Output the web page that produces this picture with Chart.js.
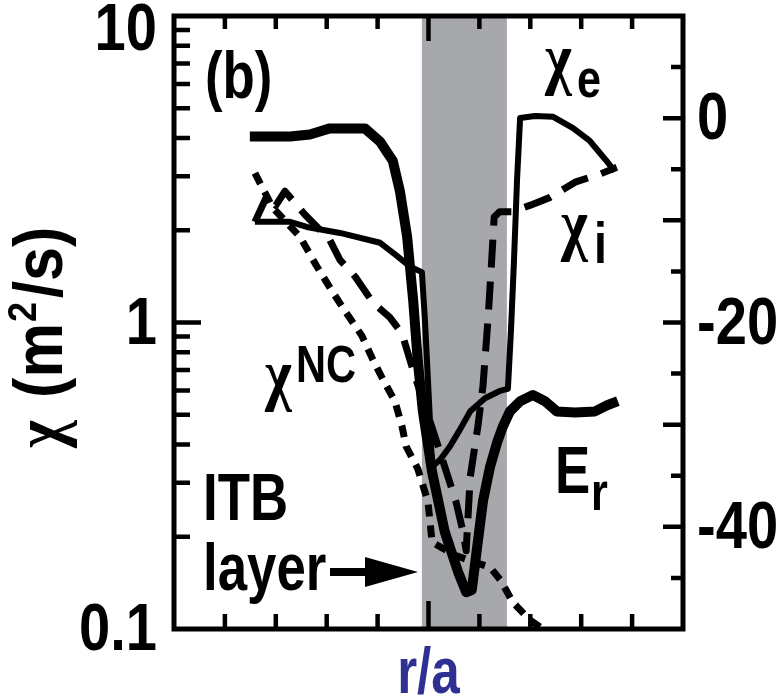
<!DOCTYPE html>
<html>
<head>
<meta charset="utf-8">
<script src="https://cdn.jsdelivr.net/npm/chart.js@4.4.1/dist/chart.umd.min.js"></script>
<style>
  body { margin: 0; background: #fff; }
  canvas { display: block; }
</style>
</head>
<body>
<canvas id="c" width="779" height="698"></canvas>
<script>
// r/a positions and values for each profile
const erR = [0.149, 0.228, 0.267, 0.306, 0.375, 0.405, 0.430, 0.444, 0.458, 0.470, 0.479, 0.489, 0.507, 0.532, 0.558, 0.574, 0.585, 0.595, 0.607, 0.621, 0.635, 0.646, 0.660, 0.680, 0.705, 0.729, 0.752, 0.788, 0.827, 0.851, 0.872]
const erVal = [-1.8, -1.8, -1.6, -1.0, -1.0, -2.3, -4.2, -7.2, -11.6, -17.9, -23.8, -28.7, -34.6, -40.5, -44.4, -46.4, -46.2, -42.2, -37.5, -34.1, -31.7, -30.2, -28.7, -27.7, -27.1, -27.7, -28.7, -28.8, -28.7, -28.1, -27.7]

const chiER = [0.159, 0.228, 0.261, 0.326, 0.405, 0.438, 0.464, 0.487, 0.493, 0.501, 0.507, 0.523, 0.542, 0.562, 0.582, 0.611, 0.640, 0.656, 0.662, 0.668, 0.674, 0.680, 0.709, 0.745, 0.784, 0.817, 0.847, 0.866]
const chiE = [2.13, 2.13, 2.05, 1.96, 1.82, 1.65, 1.52, 1.46, 1.02, 0.554, 0.338, 0.357, 0.394, 0.448, 0.513, 0.566, 0.598, 0.607, 0.94, 1.6, 2.93, 4.65, 4.72, 4.69, 4.31, 3.91, 3.41, 3.11]

const chiIR = [0.159, 0.183, 0.200, 0.218, 0.257, 0.306, 0.326, 0.356, 0.391, 0.424, 0.448, 0.473, 0.503, 0.532, 0.554, 0.568, 0.574, 0.582, 0.597, 0.607, 0.613, 0.617, 0.623, 0.629, 0.640, 0.664, 0.699, 0.739, 0.788, 0.837, 0.870]
const chiI = [2.13, 2.6, 2.41, 2.68, 2.25, 1.86, 1.6, 1.41, 1.16, 1.04, 0.92, 0.67, 0.476, 0.338, 0.26, 0.207, 0.18, 0.314, 0.458, 0.62, 0.84, 1.03, 1.48, 2.21, 2.3, 2.3, 2.41, 2.56, 2.87, 3.05, 3.21]

const chiNcR = [0.159, 0.194, 0.248, 0.279, 0.310, 0.336, 0.369, 0.389, 0.409, 0.434, 0.448, 0.456, 0.479, 0.499, 0.507, 0.552, 0.591, 0.621, 0.642, 0.666, 0.699, 0.725]
const chiNc = [3.07, 2.37, 1.9, 1.54, 1.27, 1.09, 0.906, 0.767, 0.659, 0.554, 0.458, 0.394, 0.333, 0.26, 0.192, 0.174, 0.165, 0.159, 0.144, 0.122, 0.107, 0.1]

// ITB layer (shaded)
const bandFrom = 0.487
const bandTo = 0.654

const leftLabels = ['0.1', '1', '10']
const rightLabels = ['0', '-20', '-40']

const SANS = "'Liberation Sans', Arial, sans-serif"
const SERIF = "'Liberation Serif', 'DejaVu Serif', serif"
const SQ = 0.8   // lettering is narrow

function pts(xs, ys) {
  return xs.map((x, i) => ({x: x, y: ys[i]}))
}

function txt(ctx, s, x, y, font, sx, align) {
  ctx.save()
  ctx.translate(x, y)
  ctx.scale(sx || 1, 1)
  ctx.font = font
  ctx.textAlign = align || 'left'
  ctx.fillText(s, 0, 0)
  ctx.restore()
}

const decor = {
  id: 'decor',
  beforeDatasetsDraw(chart) {
    const {ctx, chartArea: a, scales} = chart
    const x0 = scales.x.getPixelForValue(bandFrom)
    const x1 = scales.x.getPixelForValue(bandTo)
    ctx.save()
    ctx.fillStyle = '#a7a8ab'
    ctx.fillRect(x0, a.top, x1 - x0, a.bottom - a.top)
    ctx.restore()
  },
  afterDatasetsDraw(chart) {
    const {ctx, chartArea: a, scales} = chart
    ctx.save()
    ctx.strokeStyle = '#000'
    ctx.lineWidth = 5
    ctx.strokeRect(a.left, a.top, a.right - a.left, a.bottom - a.top)
    ctx.lineWidth = 4.5
    ctx.beginPath()
    // ticks on r/a, top and bottom, pointing in
    for (let i = 1; i < 10; i++) {
      const px = scales.x.getPixelForValue(i / 10)
      const big = i == 5
      ctx.moveTo(px, a.bottom); ctx.lineTo(px, a.bottom - (big ? 28 : 15))
      ctx.moveTo(px, a.top); ctx.lineTo(px, a.top + (big ? 25 : 13))
    }
    // log ticks on the left
    for (const d of [0.1, 1]) {
      for (let m = 1; m < 10; m++) {
        if (d == 0.1 && m == 1) continue
        const py = scales.y.getPixelForValue(d * m)
        ctx.moveTo(a.left, py); ctx.lineTo(a.left + (m == 1 ? 27 : 16), py)
      }
    }
    // Er ticks on the right
    for (let v = -45; v <= 5; v += 5) {
      const py = scales.y2.getPixelForValue(v)
      ctx.moveTo(a.right, py); ctx.lineTo(a.right - (v % 10 == 0 ? 20 : 12), py)
    }
    ctx.stroke()
    ctx.restore()
  },
  afterDraw(chart) {
    const {ctx, chartArea: a, scales} = chart
    ctx.save()
    ctx.fillStyle = '#000'
    ctx.textBaseline = 'alphabetic'
    const num = 'bold 66px ' + SANS
    for (const s of leftLabels) {
      const py = scales.y.getPixelForValue(Number(s))
      txt(ctx, s, a.left - 17, Math.max(py + 21, 50), num, 0.85, 'right')
    }
    for (const s of rightLabels) {
      const py = scales.y2.getPixelForValue(Number(s))
      txt(ctx, s, a.right + 14, py + 21, num, 0.85)
    }

    // axis titles
    ctx.fillStyle = '#2e3192'
    txt(ctx, 'r/a', (a.left + a.right) / 2, 693, 'bold 64px ' + SANS, SQ, 'center')
    ctx.fillStyle = '#000'
    ctx.save()
    ctx.translate(62, 448)
    ctx.rotate(-Math.PI / 2)
    txt(ctx, 'χ', 0, 0, 'bold 70px ' + SERIF, 0.85)
    txt(ctx, '(m', 50, 0, 'bold 68px ' + SANS, 0.9)
    txt(ctx, '2', 126, -26, 'bold 40px ' + SANS, 0.9)
    txt(ctx, '/s)', 150, 0, 'bold 68px ' + SANS, 0.9)
    ctx.restore()

    // curve labels
    txt(ctx, '(b)', 205, 98, 'bold 66px ' + SANS, SQ)
    txt(ctx, 'χ', 545, 81, 'bold 70px ' + SERIF, 0.82)
    txt(ctx, 'e', 577, 97, 'bold 54px ' + SANS, SQ)
    txt(ctx, 'χ', 561, 247, 'bold 70px ' + SERIF, 0.82)
    txt(ctx, 'i', 594, 263, 'bold 58px ' + SANS, SQ)
    txt(ctx, 'χ', 265, 397, 'bold 70px ' + SERIF, 0.82)
    txt(ctx, 'NC', 296, 382, 'bold 52px ' + SANS, SQ)
    txt(ctx, 'E', 555, 493, 'bold 66px ' + SANS, SQ)
    txt(ctx, 'r', 591, 510, 'bold 54px ' + SANS, SQ)
    txt(ctx, 'ITB', 203, 520, 'bold 66px ' + SANS, SQ)
    txt(ctx, 'layer', 203, 590, 'bold 66px ' + SANS, SQ)
    // arrow to the layer
    ctx.fillRect(330, 568, 40, 8)
    ctx.beginPath()
    ctx.moveTo(365, 557); ctx.lineTo(418, 572); ctx.lineTo(365, 587)
    ctx.closePath()
    ctx.fill()
    ctx.restore()
  }
}

new Chart(document.getElementById('c'), {
  type: 'line',
  data: {
    datasets: [
      {data: pts(chiNcR, chiNc), yAxisID: 'y', borderColor: '#000', borderWidth: 7, borderDash: [12, 9]},
      {data: pts(chiIR, chiI), yAxisID: 'y', borderColor: '#000', borderWidth: 7, borderDash: [28, 14]},
      {data: pts(chiER, chiE), yAxisID: 'y', borderColor: '#000', borderWidth: 6},
      {data: pts(erR, erVal), yAxisID: 'y2', borderColor: '#000', borderWidth: 10}
    ]
  },
  options: {
    responsive: false,
    animation: false,
    layout: {padding: {top: 16}},
    elements: {
      point: {radius: 0},
      line: {tension: 0, borderJoinStyle: 'round', fill: false}
    },
    plugins: {legend: {display: false}, tooltip: {enabled: false}},
    scales: {
      x: {
        type: 'linear', min: 0, max: 1,
        grid: {display: false, drawTicks: false},
        border: {display: false},
        ticks: {display: false},
        afterFit(s) { s.height = 69 }
      },
      y: {
        type: 'logarithmic', position: 'left', min: 0.1, max: 10,
        grid: {display: false, drawTicks: false},
        border: {display: false},
        ticks: {display: false},
        afterFit(s) { s.width = 174 }
      },
      y2: {
        type: 'linear', position: 'right', min: -50, max: 10,
        grid: {display: false, drawTicks: false},
        border: {display: false},
        ticks: {display: false},
        afterFit(s) { s.width = 96 }
      }
    }
  },
  plugins: [decor]
})
</script>
</body>
</html>
